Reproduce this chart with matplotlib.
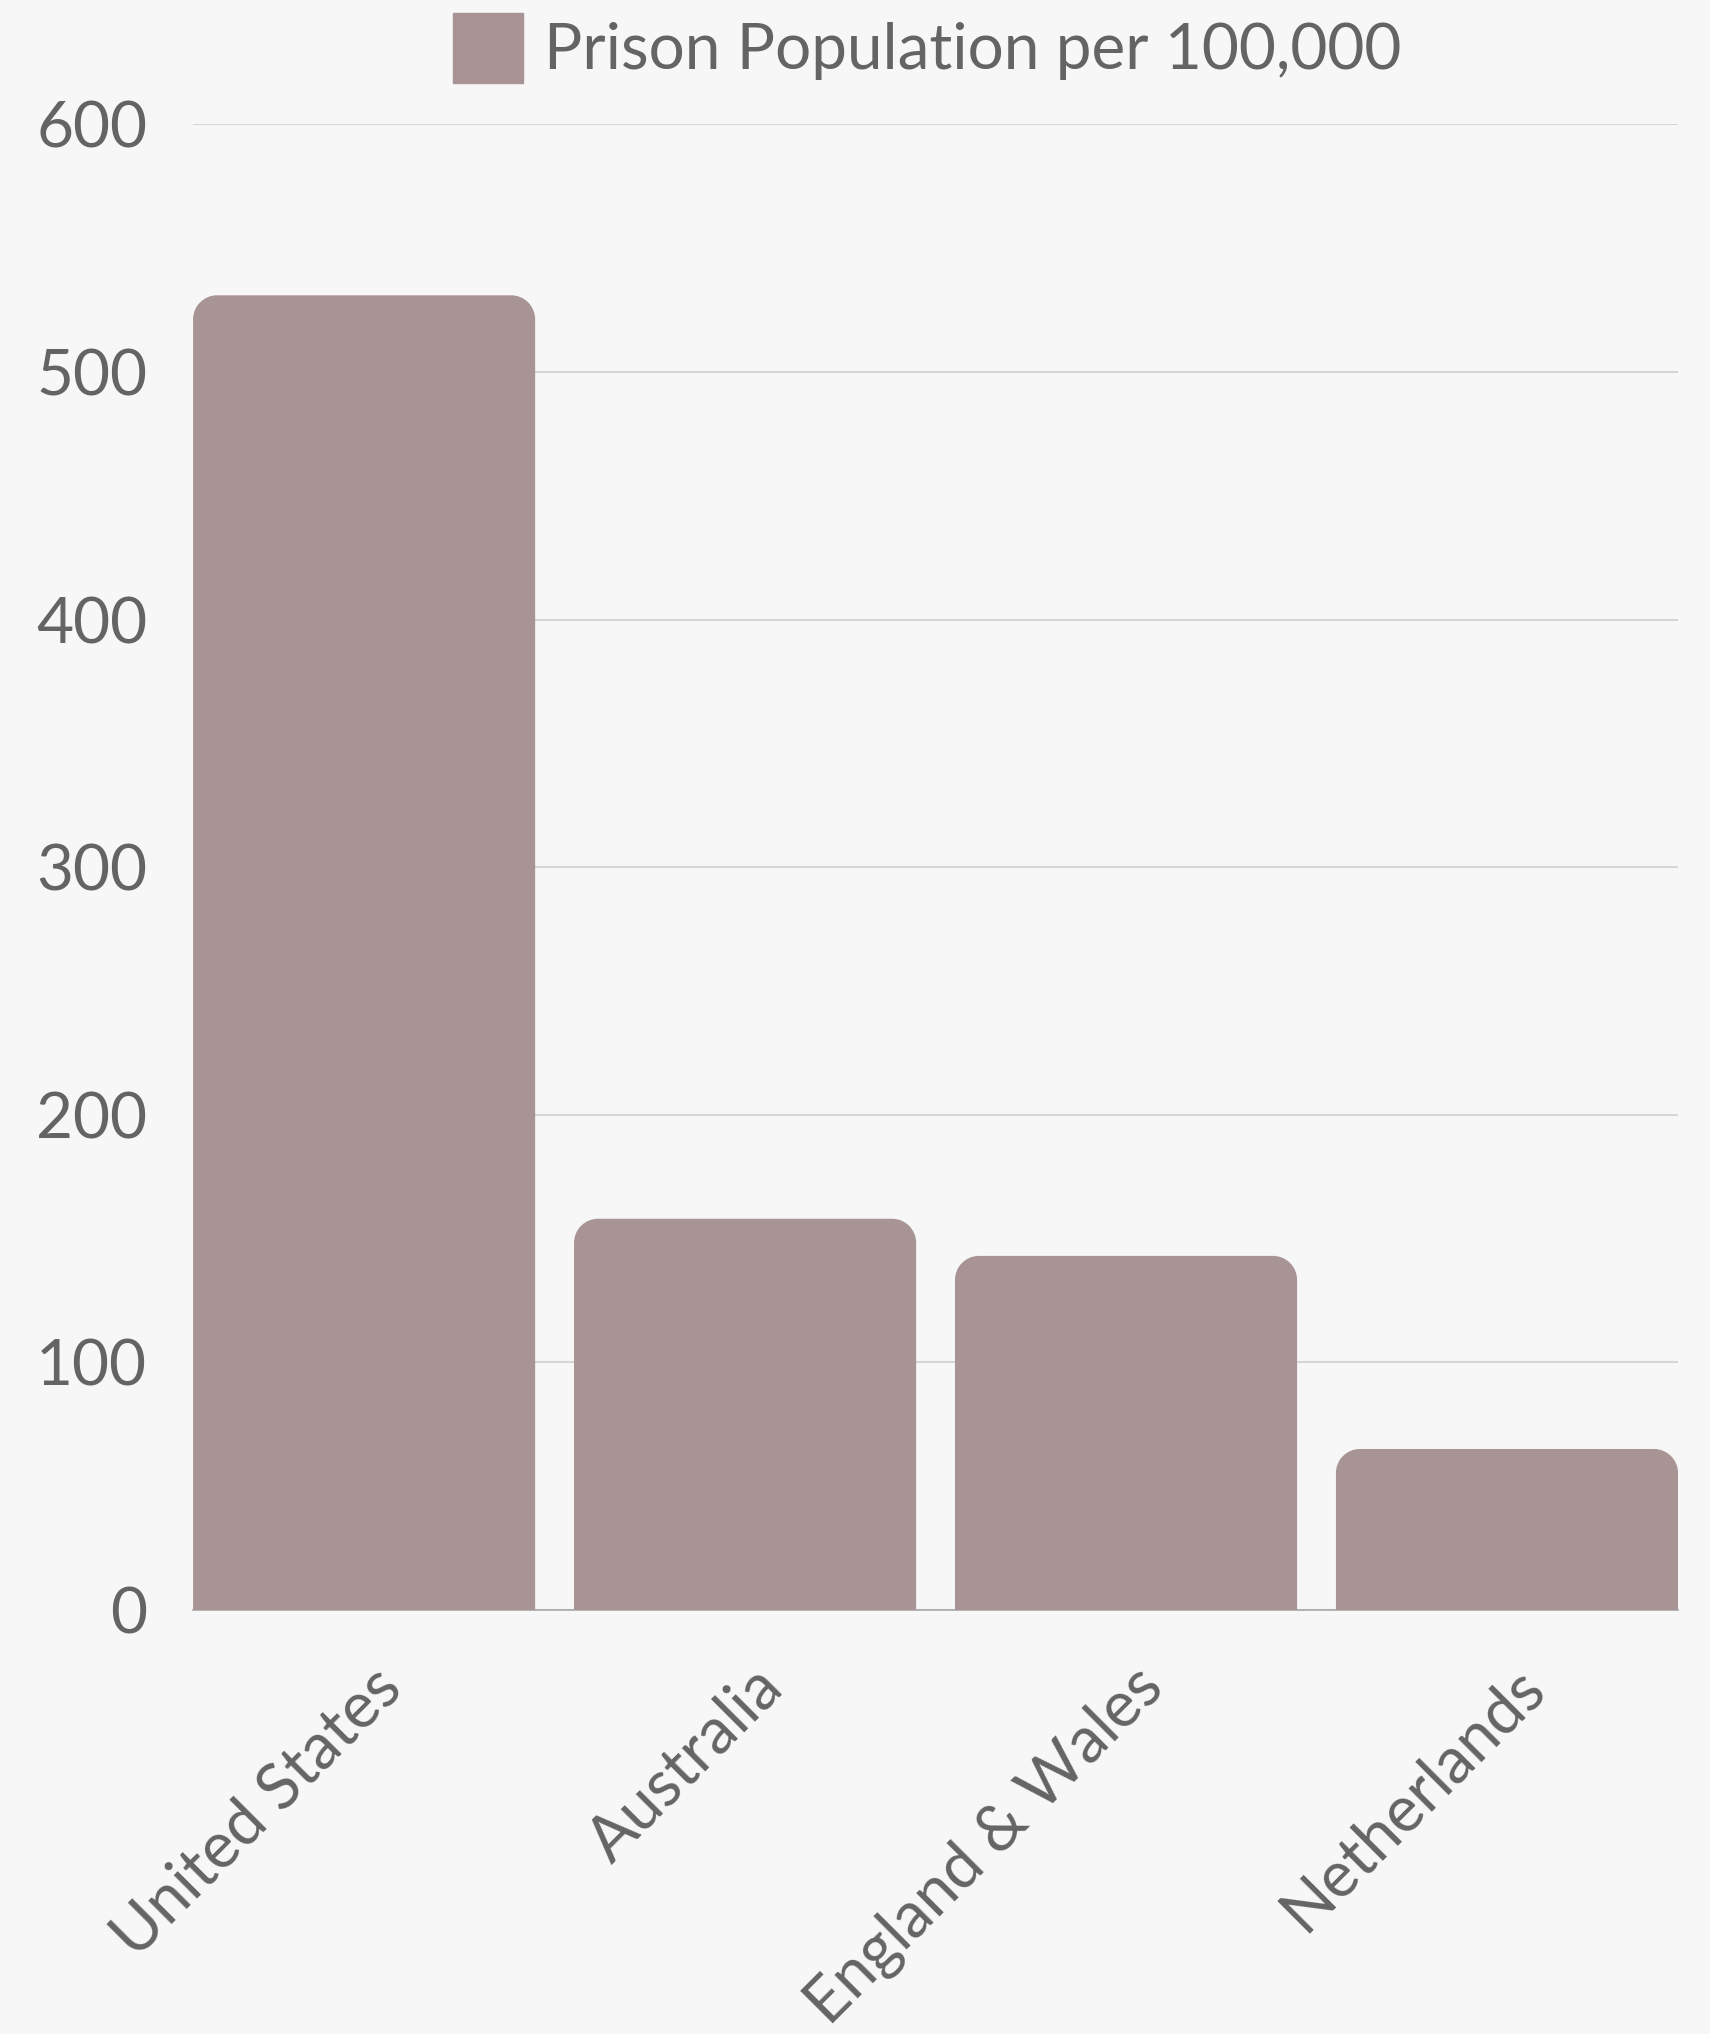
import numpy as np
import matplotlib.pyplot as plt
import matplotlib.transforms as mtransforms
from matplotlib.path import Path
from matplotlib.patches import PathPatch, Patch

# data
countries = ['United States', 'Australia', 'England & Wales', 'Netherlands']
prison_rate = [531, 158, 143, 65]
y_ticks = [0, 100, 200, 300, 400, 500, 600]
legend_label = 'Prison Population per 100,000'

plt.rcParams['font.family'] = ['Lato', 'DejaVu Sans']
txt_col = '#646464'
bar_col = '#a89495'
bg = '#f7f7f7'
fs = 46


def rounded_top(ax, x0, w, h, r_px=24):
    # bar with rounded top corners, radius given in pixels
    sx, sy = ax.transData.transform((1, 1)) - ax.transData.transform((0, 0))
    rx, ry = r_px / sx, min(r_px / sy, h / 2)
    k = 0.5523
    x1 = x0 + w
    verts = [(x0, 0), (x0, h - ry),
             (x0, h - ry + k * ry), (x0 + rx - k * rx, h), (x0 + rx, h),
             (x1 - rx, h),
             (x1 - rx + k * rx, h), (x1, h - ry + k * ry), (x1, h - ry),
             (x1, 0), (x0, 0)]
    codes = [Path.MOVETO, Path.LINETO,
             Path.CURVE4, Path.CURVE4, Path.CURVE4,
             Path.LINETO,
             Path.CURVE4, Path.CURVE4, Path.CURVE4,
             Path.LINETO, Path.CLOSEPOLY]
    return PathPatch(Path(verts, codes), facecolor=bar_col, edgecolor='none', zorder=3)


fig = plt.figure(figsize=(17.1, 20.34), dpi=100, facecolor=bg)
ax = fig.add_axes([0.1129, 0.2085, 0.8684, 0.7303])
ax.set_facecolor(bg)

width = 0.898
x = np.arange(len(countries))
ax.set_xlim(-width / 2, len(countries) - 1 + width / 2)
ax.set_ylim(0, 600)

bars = ax.bar(x, prison_rate, width, color=bar_col)
for b in bars:
    b.set_visible(False)
    ax.add_patch(rounded_top(ax, b.get_x(), b.get_width(), b.get_height()))

ax.set_yticks(y_ticks)
ax.yaxis.grid(True, color='#d6d6d6', lw=1.5, zorder=0)
ax.set_axisbelow(True)
for s in ['left', 'right', 'top']:
    ax.spines[s].set_visible(False)
ax.spines['bottom'].set_color('#a8a8a8')
ax.spines['bottom'].set_linewidth(1.2)
ax.spines['bottom'].set_zorder(2)

ax.tick_params(axis='y', length=0, pad=33, labelsize=fs, labelcolor=txt_col)
ax.tick_params(axis='x', length=0, pad=34, labelsize=fs, labelcolor=txt_col)
ax.set_xticks(x)
ax.set_xticklabels(countries, rotation=45, ha='right', va='top', rotation_mode='anchor')
offset = mtransforms.ScaledTranslation(0.07, 0, fig.dpi_scale_trans)
for lbl in ax.get_xticklabels():
    lbl.set_transform(lbl.get_transform() + offset)

ax.legend(handles=[Patch(color=bar_col, label=legend_label)], loc='center',
          bbox_to_anchor=(0.5424, 1 - 48 / 2034), bbox_transform=fig.transFigure,
          frameon=False, fontsize=fs, handlelength=1.096, handleheight=1.309,
          handletextpad=0.33, labelcolor=txt_col)

fig.savefig('out.png', dpi=100, facecolor=bg)
